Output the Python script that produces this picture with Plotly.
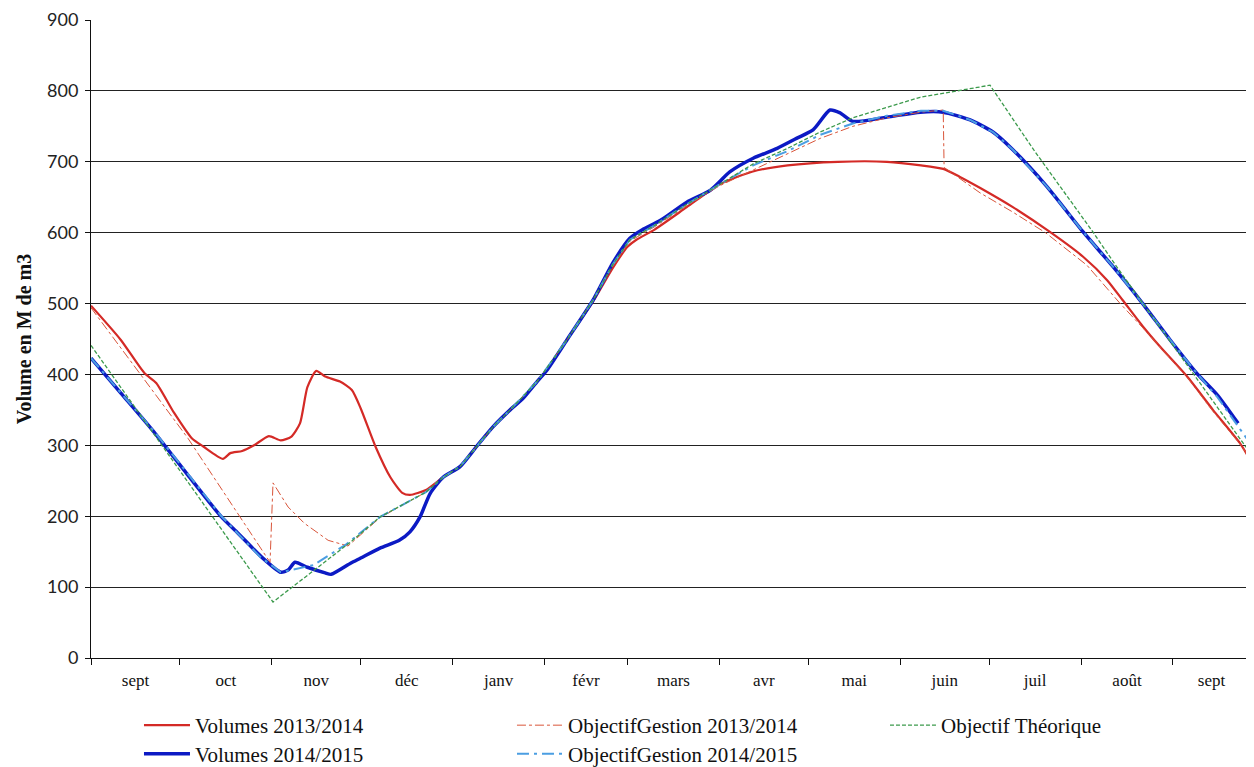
import plotly.graph_objects as go

# ---------------- data (day 0 = 1 Sept) ----------------
month_starts = [0, 30, 61, 91, 122, 153, 181, 212, 242, 273, 303, 334, 365]
month_mids = [15, 45.5, 76, 106.5, 137.5, 167, 196.5, 227, 257.5, 288, 318.5, 349.5, 378]
month_labels = ["sept", "oct", "nov", "déc", "janv", "févr", "mars", "avr", "mai",
                "juin", "juil", "août", "sept"]

vol1314_days = [0, 10, 18, 22, 28, 34, 38, 44.5, 47, 51, 55, 60, 64, 67.5, 70.5, 73, 76, 79,
                84, 88, 91, 96, 101, 105, 107.6, 113, 118.8, 124.5, 130, 135.6, 141.4, 145.7,
                150.5, 153.8, 160.6, 169.4, 176, 181, 184, 190, 201, 212, 223, 235, 252,
                268.5, 280, 287.5, 293, 300, 311, 323.5, 334.7, 342.8, 348, 355, 360.7,
                369.8, 378.5, 387.6, 391]
vol1314_vals = [497, 449, 402, 388, 346, 310, 298, 281, 289, 292, 300, 313, 307, 312, 331, 382,
                405, 397, 390, 378, 352, 298, 255, 233, 230, 237, 255, 270, 298, 326, 350, 366,
                390, 406, 449, 503, 550, 580, 590, 604, 636, 668, 686, 695, 700,
                700, 695, 690, 679, 663, 636, 601, 566, 533, 505, 467, 439,
                397, 350, 303, 280]

vol1415_days = [0, 10, 21.6, 32.7, 44, 49.6, 57.4, 64, 66.5, 68.8, 73, 79, 81, 87.7, 91, 97.5,
                104, 107.6, 111, 114.4, 118.8, 124.5, 130, 135.6, 141.4, 145.7, 150.5, 153.8,
                160.6, 169.4, 176, 181.8, 186, 192, 201, 209, 215.6, 223.4, 231.5, 238, 243.6,
                249.3, 252.7, 257, 268.5, 279.7, 287.5, 296.6, 304.3, 311, 322.5, 334.7,
                344.8, 354.6, 364, 373, 380, 387]
vol1415_vals = [423, 374, 317, 258, 199, 176, 143, 121, 124, 135, 128, 120, 118, 134, 141, 155,
                166, 178, 199, 232, 255, 270, 298, 326, 350, 366, 390, 406,
                449, 505, 557, 592, 604, 617, 643, 660, 686, 705, 719, 733, 745,
                773, 769, 757, 763, 770, 770, 759, 742, 717, 665, 601,
                552, 501, 449, 402, 371, 331]

obj1314_days = [0, 16, 32.7, 60.4, 61.4, 66.5, 72, 80, 86.7, 97.5, 113, 118.8, 124.5, 130,
                135.6, 141.4, 150.5, 160.6, 169.4, 176, 181.8, 190, 201, 212, 223, 235, 246,
                257, 268.5, 280, 287.5, 287.8, 296, 300, 311, 322, 336, 347, 355, 361, 370,
                378.5, 387.6, 391]
obj1314_vals = [494, 404, 310, 135, 247, 213, 190, 166, 158, 198, 234, 255, 270, 298,
                326, 350, 390, 449, 505, 553, 588, 608, 638, 666, 688, 712, 733,
                750, 762, 770, 773, 692, 668, 656, 629, 600, 554, 501, 465, 437, 395,
                348, 302, 282]

obj1415_days = [0, 22, 44, 57, 64, 75, 86, 97.5, 113, 118.8, 124.5, 130, 135.6, 141.4, 150.5,
                160.6, 169.4, 176, 181.8, 190, 201, 212, 223.4, 235, 246, 257, 268.5, 280,
                287.5, 296.6, 304.3, 311, 322.5, 334.7, 344.8, 354.6, 364, 373, 380, 391]
obj1415_vals = [423, 316, 200, 143, 121, 131, 160, 199, 234, 255, 270, 298, 326, 350, 390,
                449, 505, 555, 590, 610, 640, 668, 695, 715, 738, 754, 765, 772,
                772, 759, 742, 717, 665, 601, 552, 501, 449, 402, 368, 303]

theo_days = [0, 61.4, 88, 97.5, 113, 118.8, 124.5, 130, 135.6, 141.4, 150.5, 160.6, 169.4,
             176, 181.8, 190, 201, 212, 223.4, 235, 246, 257, 279.7, 303.3, 318, 338, 346,
             388.7, 391]
theo_vals = [441, 79, 165, 199, 234, 255, 270, 298, 326, 350, 390, 449, 505,
             555, 590, 610, 640, 668, 697, 719, 742, 762, 791, 808, 717, 601, 552,
             303, 290]

# ---------------- figure ----------------
fig = go.Figure()
fig.add_trace(go.Scatter(x=vol1314_days, y=vol1314_vals, mode="lines", name="Volumes 2013/2014",
                         line=dict(color="#d42a26", width=2.2, shape="spline", smoothing=0.6),
                         legend="legend"))
fig.add_trace(go.Scatter(x=vol1415_days, y=vol1415_vals, mode="lines", name="Volumes 2014/2015",
                         line=dict(color="#0c1ac4", width=3.5, shape="spline", smoothing=0.6),
                         legend="legend2"))
fig.add_trace(go.Scatter(x=obj1314_days, y=obj1314_vals, mode="lines", name="ObjectifGestion 2013/2014",
                         line=dict(color="#d9553a", width=1, dash="dashdot"),
                         legend="legend"))
fig.add_trace(go.Scatter(x=obj1415_days, y=obj1415_vals, mode="lines", name="ObjectifGestion 2014/2015",
                         line=dict(color="#4b9ee2", width=2, dash="12px,5px,3px,5px"),
                         legend="legend2"))
fig.add_trace(go.Scatter(x=theo_days, y=theo_vals, mode="lines", name="Objectif Théorique",
                         line=dict(color="#3c9a4c", width=1.3, dash="4px,2px"),
                         legend="legend"))

legend_common = dict(orientation="h", xanchor="left", yanchor="top", x=0.0414,
                     entrywidth=312, entrywidthmode="pixels", itemwidth=46,
                     font=dict(family="Liberation Serif", size=21, color="#111"),
                     bgcolor="rgba(0,0,0,0)", borderwidth=0, itemclick=False)

# the page body adds an 8 px offset, so the figure is sized to fit inside it
fig.update_layout(
    width=1246, height=759,
    margin=dict(l=83, r=4, t=12, b=109, autoexpand=False),
    paper_bgcolor="white", plot_bgcolor="white",
    showlegend=True,
    legend=dict(**legend_common, y=-0.0737),
    legend2=dict(**legend_common, y=-0.1185),
    xaxis=dict(range=[0, 391], tickmode="array", tickvals=month_mids, ticktext=month_labels,
               ticks="", showgrid=False, zeroline=False, showline=True, linecolor="#111",
               linewidth=1, ticklabelstandoff=7, automargin=False,
               tickfont=dict(family="Liberation Serif", size=17, color="#111"),
               minor=dict(tickmode="array", tickvals=month_starts, ticks="outside",
                          ticklen=6, tickcolor="#111", tickwidth=1, showgrid=False)),
    yaxis=dict(range=[0, 900], tickmode="array", tickvals=list(range(0, 901, 100)),
               ticks="outside", ticklen=5, tickcolor="#111", showgrid=True,
               gridcolor="#222", gridwidth=1, zeroline=False, showline=True,
               linecolor="#111", linewidth=1, ticklabelstandoff=3, automargin=False,
               tickfont=dict(family="Lato", size=18, color="#222"),
               title=dict(text="<b>Volume en M de m3</b>", standoff=10,
                          font=dict(family="Liberation Serif", size=20, color="#111"))),
)

fig.write_html("out.html")
